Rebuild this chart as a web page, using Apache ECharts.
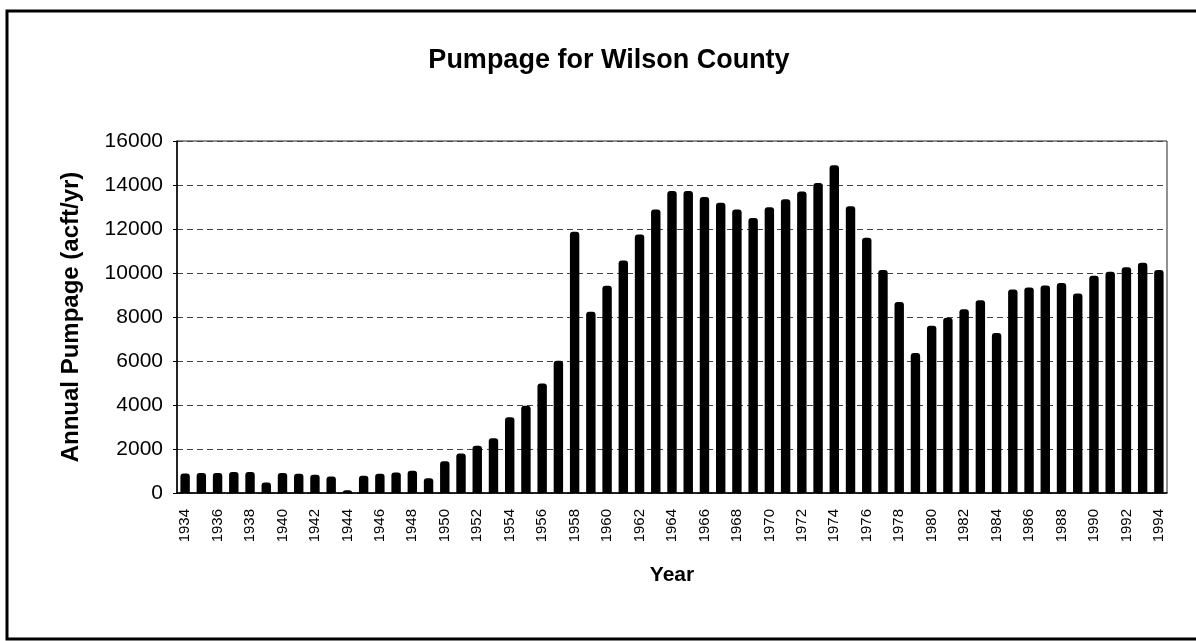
<!DOCTYPE html>
<html>
<head>
<meta charset="utf-8">
<script src="https://cdn.jsdelivr.net/npm/echarts@6/dist/echarts.min.js"></script>
<style>
  html, body { margin: 0; padding: 0; background: #fff; }
  #main { width: 1196px; height: 641px; }
</style>
</head>
<body>
<div id="main"></div>
<script>
var years = [];
for (var y = 1934; y <= 1994; y++) years.push('' + y);

var pumpage = [
    890, 905, 905, 950, 950, 480, 905, 875, 830, 755,
    130, 785, 875, 935, 1010, 665, 1440, 1790, 2150, 2490,
    3440, 3970, 4980, 6010, 11870, 8240, 9420, 10570, 11750, 12890,
    13730, 13730, 13460, 13190, 12890, 12500, 12990, 13350, 13700, 14090,
    14900, 13030, 11600, 10140, 8680, 6360, 7600, 7970, 8350, 8760,
    7270, 9250, 9340, 9430, 9540, 9070, 9870, 10060, 10260, 10470,
    10140
];

var yTicks = [0, 2000, 4000, 6000, 8000, 10000, 12000, 14000, 16000];

var myChart = echarts.init(document.getElementById('main'));

var font = 'Liberation Sans, Arial, sans-serif';

var option = {
    backgroundColor: '#fff',
    animation: false,
    title: {
        text: 'Pumpage for Wilson County',
        left: 604,
        top: 42,
        textAlign: 'center',
        textStyle: {
            fontFamily: font,
            fontWeight: 'bold',
            fontSize: 27,
            color: '#000'
        }
    },
    graphic: [{
        type: 'rect',
        shape: { x: 7, y: 11, width: 1200, height: 628 },
        style: { fill: 'none', stroke: '#000', lineWidth: 3 },
        silent: true
    }],
    grid: {
        left: 177,
        right: 29,
        top: 141,
        bottom: 148,
        show: true,
        borderColor: '#222',
        borderWidth: 1
    },
    xAxis: {
        type: 'category',
        data: years,
        name: 'Year',
        nameLocation: 'middle',
        nameGap: 72,
        nameTextStyle: {
            fontFamily: font,
            fontWeight: 'bold',
            fontSize: 21,
            color: '#000'
        },
        axisLine: { lineStyle: { color: '#000', width: 1.5 } },
        axisTick: { show: false },
        axisLabel: {
            interval: 1,
            rotate: 90,
            margin: 16,
            fontFamily: font,
            fontSize: 15,
            color: '#000'
        }
    },
    yAxis: {
        type: 'value',
        min: yTicks[0],
        max: yTicks[yTicks.length - 1],
        interval: 2000,
        name: 'Annual Pumpage (acft/yr)',
        nameLocation: 'middle',
        nameGap: 94,
        nameTextStyle: {
            fontFamily: font,
            fontWeight: 'bold',
            fontSize: 24,
            color: '#000'
        },
        axisLine: { show: true, lineStyle: { color: '#000', width: 1.5 } },
        axisTick: { show: true, length: 4, lineStyle: { color: '#000' } },
        axisLabel: {
            margin: 14,
            fontFamily: font,
            fontSize: 21,
            color: '#000',
            formatter: function (v) { return '' + v; }
        },
        splitLine: {
            show: true,
            lineStyle: { color: '#444', type: [6, 4], width: 1 }
        }
    },
    series: [{
        name: 'Pumpage',
        type: 'bar',
        data: pumpage,
        barWidth: '58%',
        itemStyle: { color: '#000', borderRadius: [3, 3, 0, 0] }
    }]
};

myChart.setOption(option);
</script>
</body>
</html>
